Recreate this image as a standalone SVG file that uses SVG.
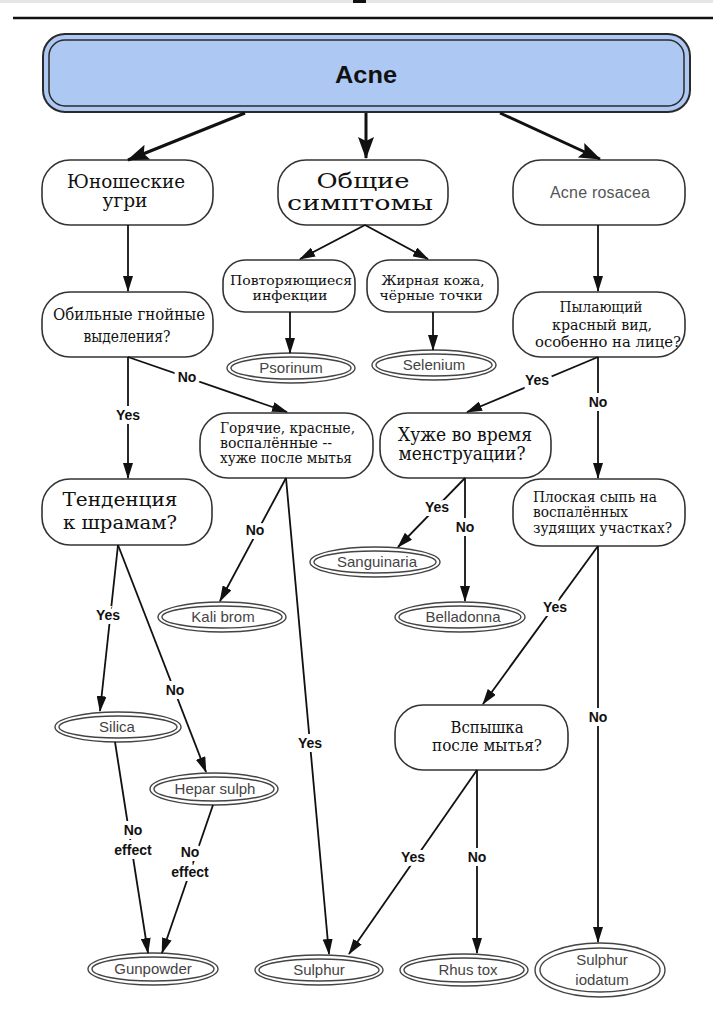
<svg xmlns="http://www.w3.org/2000/svg" width="713" height="1024" viewBox="0 0 713 1024">
<style>
.box{fill:#fff;stroke:#333;stroke-width:1.6}
.ls{font-family:"DejaVu Serif",serif;fill:#111;text-anchor:middle}
.ds{font-family:"DejaVu Serif",serif;fill:#111;text-anchor:middle}
.dsl{font-family:"DejaVu Serif",serif;fill:#111}
.rem ellipse{fill:#fff;stroke:#444;stroke-width:1.4}
.rem text{font-family:"Liberation Sans",sans-serif;font-size:15px;fill:#444;text-anchor:middle}
.cn line{stroke:#111;stroke-width:1.8;marker-end:url(#ah)}
.cn line.big{stroke-width:3;marker-end:url(#ahb)}
.lbl{font-family:"Liberation Sans",sans-serif;font-weight:bold;font-size:14px;fill:#111;text-anchor:middle;stroke:#fff;stroke-width:8;paint-order:stroke}
</style>
<defs>
<marker id="ah" viewBox="0 0 16 10" refX="15" refY="5" markerWidth="16" markerHeight="10" markerUnits="userSpaceOnUse" orient="auto"><path d="M0,0 L16,5 L0,10 z" fill="#111"/></marker>
<marker id="ahb" viewBox="0 0 22 16" refX="21" refY="8" markerWidth="22" markerHeight="16" markerUnits="userSpaceOnUse" orient="auto"><path d="M0,0 L22,8 L0,16 L4,8 z" fill="#111"/></marker>
</defs>
<rect width="713" height="1024" fill="#fff"/>
<rect x="0" y="0" width="713" height="3" fill="#e6e6e6"/>
<rect x="353" y="0" width="13" height="3" fill="#111"/>
<line x1="13" y1="18" x2="713" y2="18" stroke="#111" stroke-width="2.5"/>

<g id="acne">
<rect x="43" y="34" width="647" height="78" rx="22" fill="#adc8f2" stroke="#2a2a2a" stroke-width="2"/>
<rect x="49" y="40" width="635" height="66" rx="16" fill="none" stroke="#2a2a2a" stroke-width="1.5"/>
<text x="366" y="83" font-family="Liberation Sans, sans-serif" font-weight="bold" font-size="24" text-anchor="middle" fill="#111" textLength="62" lengthAdjust="spacingAndGlyphs">Acne</text>
</g>

<g id="yunosheskie">
<rect class="box" x="42" y="160" width="171" height="65" rx="28"/>
<text class="ls" font-size="18" x="126" y="188" textLength="118" lengthAdjust="spacingAndGlyphs">Юношеские</text>
<text class="ls" font-size="18" x="125" y="207" textLength="45" lengthAdjust="spacingAndGlyphs">угри</text>
</g>

<g id="obshchie">
<rect class="box" x="278" y="160" width="170" height="65" rx="28"/>
<text class="ds" font-size="21" x="363" y="188" textLength="93" lengthAdjust="spacingAndGlyphs">Общие</text>
<text class="ds" font-size="21" x="360" y="210" textLength="146" lengthAdjust="spacingAndGlyphs">симптомы</text>
</g>

<g id="rosacea">
<rect class="box" x="513" y="160" width="172" height="65" rx="28"/>
<text x="600" y="198" font-family="Liberation Sans, sans-serif" font-size="16" fill="#555" text-anchor="middle" textLength="100" lengthAdjust="spacing">Acne rosacea</text>
</g>

<g id="povtor">
<rect class="box" x="223" y="260" width="132" height="52" rx="22"/>
<text class="ds" font-size="13.5" x="291" y="285" textLength="122" lengthAdjust="spacingAndGlyphs">Повторяющиеся</text>
<text class="ds" font-size="13.5" x="290" y="300" textLength="75" lengthAdjust="spacingAndGlyphs">инфекции</text>
</g>

<g id="zhirnaya">
<rect class="box" x="367" y="260" width="131" height="52" rx="22"/>
<text class="ds" font-size="13.5" x="433" y="285" textLength="103" lengthAdjust="spacingAndGlyphs">Жирная кожа,</text>
<text class="ds" font-size="13.5" x="431" y="300" textLength="103" lengthAdjust="spacingAndGlyphs">чёрные точки</text>
</g>

<g id="psorinum" class="rem">
<ellipse cx="291" cy="368" rx="64" ry="15"/><ellipse cx="291" cy="368" rx="60" ry="11"/>
<text x="291" y="373">Psorinum</text>
</g>

<g id="selenium" class="rem">
<ellipse cx="434" cy="365" rx="62" ry="15"/><ellipse cx="434" cy="365" rx="58" ry="11"/>
<text x="434" y="370">Selenium</text>
</g>

<g id="obilnye">
<rect class="box" x="42" y="292" width="171" height="65" rx="28"/>
<text class="ls" font-size="17" x="129" y="320" textLength="152" lengthAdjust="spacingAndGlyphs">Обильные гнойные</text>
<text class="ls" font-size="17" x="127" y="342" textLength="87" lengthAdjust="spacingAndGlyphs">выделения?</text>
</g>

<g id="pylayushchiy">
<rect class="box" x="513" y="292" width="172" height="65" rx="28"/>
<text class="ds" font-size="14.5" x="601" y="312" textLength="83" lengthAdjust="spacingAndGlyphs">Пылающий</text>
<text class="ds" font-size="14.5" x="602" y="330" textLength="100" lengthAdjust="spacingAndGlyphs">красный вид,</text>
<text class="ds" font-size="14.5" x="608" y="347" textLength="146" lengthAdjust="spacingAndGlyphs">особенно на лице?</text>
</g>

<g id="goryachie">
<rect class="box" x="200" y="413" width="173" height="65" rx="28"/>
<text class="dsl" font-size="14" x="220" y="433" textLength="135" lengthAdjust="spacingAndGlyphs">Горячие, красные,</text>
<text class="dsl" font-size="14" x="220" y="448" textLength="112" lengthAdjust="spacingAndGlyphs">воспалённые --</text>
<text class="dsl" font-size="14" x="220" y="463" textLength="132" lengthAdjust="spacingAndGlyphs">хуже после мытья</text>
</g>

<g id="khuzhe">
<rect class="box" x="380" y="413" width="171" height="65" rx="28"/>
<text class="ls" font-size="18" x="465" y="441" textLength="134" lengthAdjust="spacingAndGlyphs">Хуже во время</text>
<text class="ls" font-size="18" x="462" y="460" textLength="127" lengthAdjust="spacingAndGlyphs">менструации?</text>
</g>

<g id="tendentsiya">
<rect class="box" x="42" y="479" width="170" height="66" rx="28"/>
<text class="ls" font-size="19" x="120" y="506" textLength="115" lengthAdjust="spacingAndGlyphs">Тенденция</text>
<text class="ls" font-size="19" x="120" y="529" textLength="114" lengthAdjust="spacingAndGlyphs">к шрамам?</text>
</g>

<g id="ploskaya">
<rect class="box" x="513" y="479" width="172" height="67" rx="28"/>
<text class="dsl" font-size="14" x="533" y="502" textLength="124" lengthAdjust="spacingAndGlyphs">Плоская сыпь на</text>
<text class="dsl" font-size="14" x="533" y="517" textLength="95" lengthAdjust="spacingAndGlyphs">воспалённых</text>
<text class="dsl" font-size="14" x="533" y="533" textLength="139" lengthAdjust="spacingAndGlyphs">зудящих участках?</text>
</g>

<g id="kalibrom" class="rem">
<ellipse cx="222" cy="617" rx="64" ry="15"/><ellipse cx="222" cy="617" rx="60" ry="11"/>
<text x="223" y="622">Kali brom</text>
</g>

<g id="sanguinaria" class="rem">
<ellipse cx="375" cy="562" rx="65" ry="15"/><ellipse cx="375" cy="562" rx="61" ry="11"/>
<text x="377" y="567">Sanguinaria</text>
</g>

<g id="belladonna" class="rem">
<ellipse cx="460" cy="617" rx="65" ry="15"/><ellipse cx="460" cy="617" rx="61" ry="11"/>
<text x="463" y="622">Belladonna</text>
</g>

<g id="silica" class="rem">
<ellipse cx="118" cy="727" rx="63" ry="15"/><ellipse cx="118" cy="727" rx="59" ry="11"/>
<text x="117" y="732">Silica</text>
</g>

<g id="hepar" class="rem">
<ellipse cx="214" cy="789" rx="64" ry="16"/><ellipse cx="214" cy="789" rx="60" ry="12"/>
<text x="215" y="794">Hepar sulph</text>
</g>

<g id="vspyshka">
<rect class="box" x="395" y="705" width="173" height="65" rx="28"/>
<text class="ls" font-size="16" x="487" y="733" textLength="73" lengthAdjust="spacingAndGlyphs">Вспышка</text>
<text class="ls" font-size="16" x="487" y="751" textLength="110" lengthAdjust="spacingAndGlyphs">после мытья?</text>
</g>

<g id="gunpowder" class="rem">
<ellipse cx="153" cy="969" rx="65" ry="16"/><ellipse cx="153" cy="969" rx="61" ry="12"/>
<text x="153" y="974">Gunpowder</text>
</g>

<g id="sulphur" class="rem">
<ellipse cx="319" cy="970" rx="64" ry="15"/><ellipse cx="319" cy="970" rx="60" ry="11"/>
<text x="319" y="975">Sulphur</text>
</g>

<g id="rhustox" class="rem">
<ellipse cx="464" cy="970" rx="64" ry="16"/><ellipse cx="464" cy="970" rx="60" ry="12"/>
<text x="468" y="975">Rhus tox</text>
</g>

<g id="sulphuriodatum" class="rem">
<ellipse cx="600" cy="970" rx="65" ry="27"/><ellipse cx="600" cy="970" rx="60" ry="22"/>
<text x="602" y="965">Sulphur</text>
<text x="602" y="985">iodatum</text>
</g>

<g id="connectors" class="cn">
<line class="big" x1="245" y1="113" x2="128" y2="160"/>
<line class="big" x1="366" y1="113" x2="366" y2="158"/>
<line class="big" x1="500" y1="113" x2="600" y2="159"/>
<line x1="128" y1="225" x2="128" y2="291"/>
<line x1="365" y1="225" x2="300" y2="259"/>
<line x1="365" y1="225" x2="428" y2="259"/>
<line x1="290" y1="312" x2="290" y2="353"/>
<line x1="433" y1="312" x2="433" y2="350"/>
<line x1="598" y1="225" x2="598" y2="291"/>
<line x1="128" y1="357" x2="287" y2="412"/>
<line x1="128" y1="357" x2="128" y2="478"/>
<line x1="598" y1="357" x2="467" y2="412"/>
<line x1="598" y1="357" x2="598" y2="478"/>
<line x1="286" y1="478" x2="220" y2="601"/>
<line x1="286" y1="478" x2="329" y2="954"/>
<line x1="465" y1="478" x2="398" y2="547"/>
<line x1="465" y1="478" x2="465" y2="601"/>
<line x1="118" y1="545" x2="100" y2="711"/>
<line x1="118" y1="545" x2="206" y2="772"/>
<line x1="115" y1="742" x2="148" y2="953"/>
<line x1="213" y1="805" x2="162" y2="953"/>
<line x1="598" y1="546" x2="483" y2="704"/>
<line x1="598" y1="546" x2="598" y2="942"/>
<line x1="477" y1="770" x2="349" y2="954"/>
<line x1="477" y1="770" x2="477" y2="953"/>
<text class="lbl" x="187" y="382">No</text>
<text class="lbl" x="128" y="420">Yes</text>
<text class="lbl" x="537" y="385">Yes</text>
<text class="lbl" x="598" y="407">No</text>
<text class="lbl" x="255" y="535">No</text>
<text class="lbl" x="437" y="512">Yes</text>
<text class="lbl" x="465" y="532">No</text>
<text class="lbl" x="108" y="620">Yes</text>
<text class="lbl" x="175" y="695">No</text>
<text class="lbl" x="310" y="748">Yes</text>
<text class="lbl" x="555" y="612">Yes</text>
<text class="lbl" x="598" y="722">No</text>
<text class="lbl" x="133" y="835">No</text>
<text class="lbl" x="133" y="855">effect</text>
<text class="lbl" x="190" y="857">No</text>
<text class="lbl" x="190" y="877">effect</text>
<text class="lbl" x="413" y="862">Yes</text>
<text class="lbl" x="477" y="862">No</text>
</g>
</svg>
